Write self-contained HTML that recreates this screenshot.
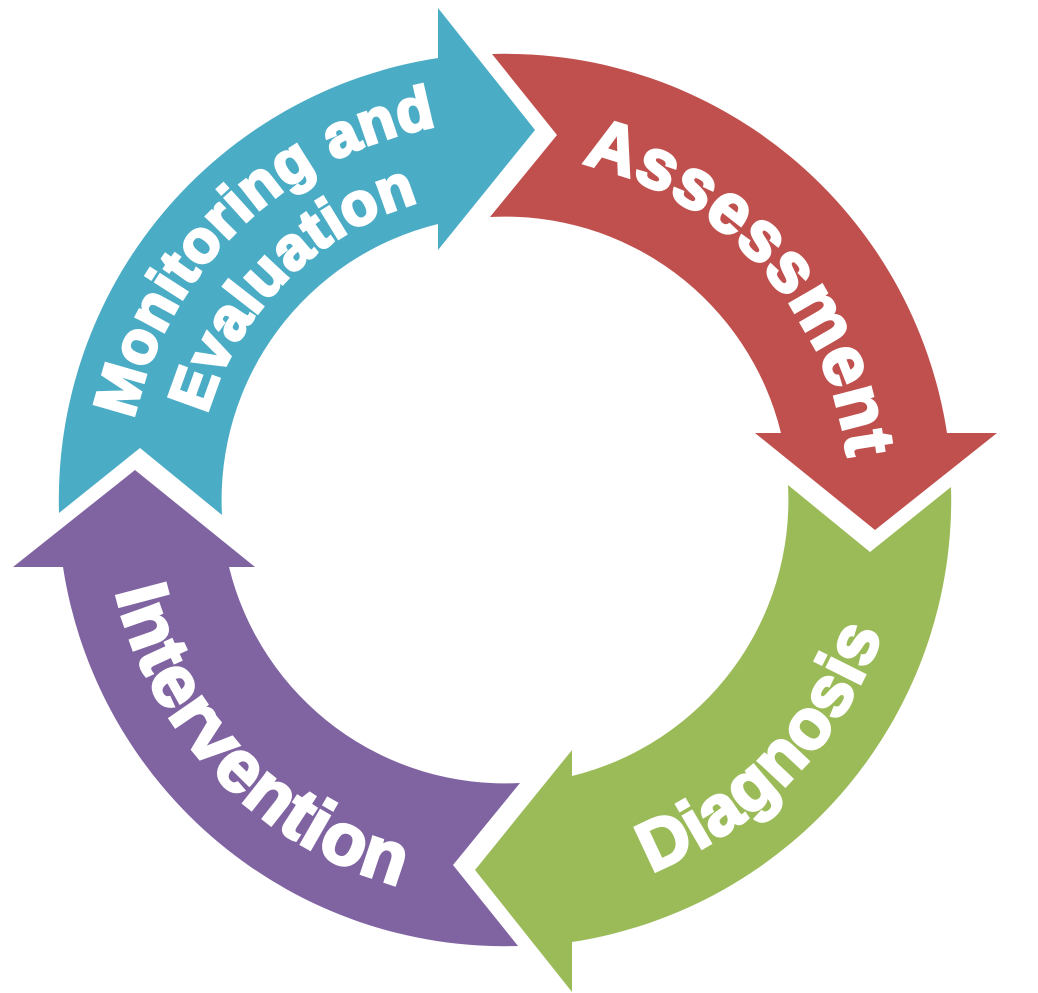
<!DOCTYPE html>
<html><head><meta charset="utf-8"><style>html,body{margin:0;padding:0;background:#fff}svg{display:block}</style></head>
<body>
<svg width="1038" height="993" viewBox="0 0 1038 993" xmlns="http://www.w3.org/2000/svg">
<defs>
<path id="arrow" d="M492 54 A447 447 0 0 1 947 433 L997 433 L875 530 L755 433 L781 433 A284 284 0 0 0 490 217 L557 135 Z"/>
<path id="tA" d="M505 155 A345 345 0 0 1 844.8 559.9"/>
<path id="tD" d="M470.6 898.5 A400 400 0 0 0 903.5 465.1"/>
<path id="tI" d="M107.2 458.2 A400 400 0 0 0 532.9 899"/>
<path id="tM" d="M126.5 466.9 A380 380 0 0 1 538.1 121.4"/>
<path id="tE" d="M196.2 473 A310 310 0 0 1 532 191.1"/>
</defs>
<use href="#arrow" fill="#C0504D"/>
<use href="#arrow" fill="#9BBB59" transform="rotate(90 505 500)"/>
<use href="#arrow" fill="#8064A2" transform="rotate(180 505 500)"/>
<use href="#arrow" fill="#4BACC6" transform="rotate(270 505 500)"/>
<g font-family="Liberation Sans, Arial, sans-serif" font-weight="bold" fill="#fff" stroke="#fff" stroke-width="3" text-anchor="middle" font-size="70" letter-spacing="1">
<text transform="rotate(-2 505 500)"><textPath href="#tA" startOffset="50%">Assessment</textPath></text>
<text transform="rotate(-1 505 500)"><textPath href="#tD" startOffset="50%">Diagnosis</textPath></text>
<text font-size="73"><textPath href="#tI" startOffset="50%">Intervention</textPath></text>
<text font-size="60" transform="rotate(-4 505 500)"><textPath href="#tM" startOffset="50%">Monitoring and</textPath></text>
<text font-size="60" transform="rotate(-5 505 500)"><textPath href="#tE" startOffset="50%">Evaluation</textPath></text>
</g>
</svg>
</body></html>
